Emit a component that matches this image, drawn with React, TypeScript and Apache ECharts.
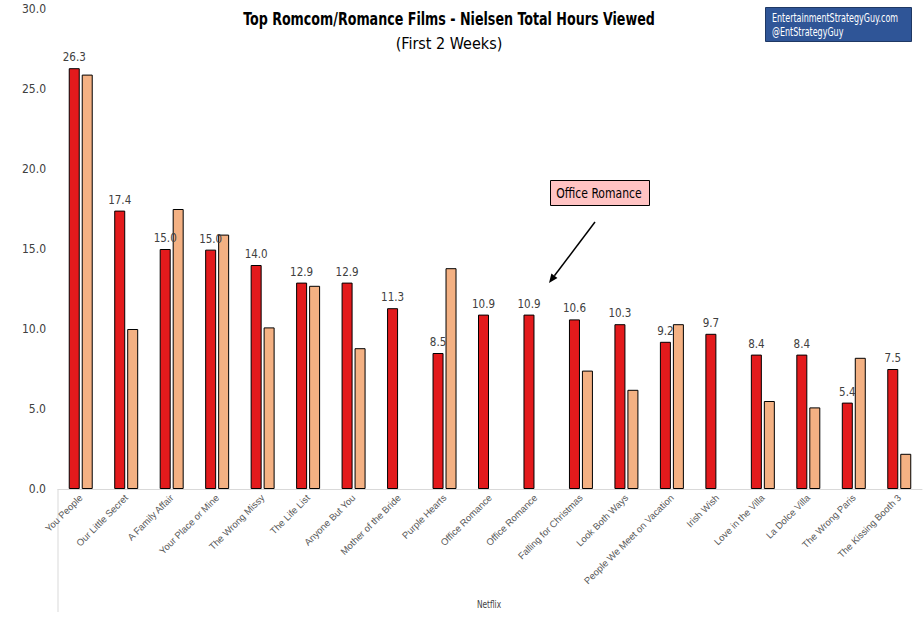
import React, { useEffect, useRef } from "react";
import * as echarts from "echarts";

const categories = [
  "You People",
  "Our Little Secret",
  "A Family Affair",
  "Your Place or Mine",
  "The Wrong Missy",
  "The Life List",
  "Anyone But You",
  "Mother of the Bride",
  "Purple Hearts",
  "Office Romance",
  "Office Romance",
  "Falling for Christmas",
  "Look Both Ways",
  "People We Meet on Vacation",
  "Irish Wish",
  "Love in the Villa",
  "La Dolce Villa",
  "The Wrong Paris",
  "The Kissing Booth 3",
];

const firstSeries = [26.3, 17.4, 15.0, 14.96, 14.0, 12.9, 12.9, 11.3, 8.5, 10.9, 10.9, 10.6, 10.3, 9.2, 9.7, 8.4, 8.4, 5.4, 7.5];
const secondSeries: (number | null)[] = [25.9, 10.0, 17.5, 15.9, 10.1, 12.7, 8.8, null, 13.8, null, null, 7.4, 6.2, 10.3, null, 5.5, 5.1, 8.2, 2.2];

const yTicks = { min: 0, max: 30, interval: 5 };

const titleText = "Top Romcom/Romance Films - Nielsen Total Hours Viewed";
const subtitleText = "(First 2 Weeks)";
const axisNameText = "Netflix";
const calloutText = "Office Romance";
const brandLines = ["EntertainmentStrategyGuy.com", "@EntStrategyGuy"];

const NARROW = '"Liberation Sans Narrow", "DejaVu Sans Condensed", "Roboto", sans-serif';

export default function App() {
  const ref = useRef<HTMLDivElement>(null);

  useEffect(() => {
    document.body.style.margin = "0";
    if (!ref.current) return;
    const chart = echarts.init(ref.current, undefined, { renderer: "svg" });

    const tip: [number, number] = [549, 283];
    const start: [number, number] = [595, 222];
    const dx = tip[0] - start[0];
    const dy = tip[1] - start[1];
    const len = Math.sqrt(dx * dx + dy * dy);
    const ux = dx / len;
    const uy = dy / len;
    const headL = 9;
    const headW = 3.8;
    const base: [number, number] = [tip[0] - ux * headL, tip[1] - uy * headL];

    chart.setOption({
      animation: false,
      grid: { left: 58, right: 1, top: 9, bottom: 146, containLabel: false },
      xAxis: {
        type: "category",
        data: categories,
        axisLine: { show: true, lineStyle: { color: "#d9d9d9", width: 1 } },
        axisTick: { show: false },
        axisLabel: {
          interval: 0,
          rotate: 45,
          fontSize: 9.5,
          color: "#595959",
          fontFamily: '"Liberation Sans", Arial, sans-serif',
          margin: 7,
        },
      },
      yAxis: {
        type: "value",
        min: yTicks.min,
        max: yTicks.max,
        interval: yTicks.interval,
        axisLine: { show: false },
        axisTick: { show: false },
        splitLine: { show: false },
        axisLabel: {
          formatter: (v: number) => v.toFixed(1),
          fontSize: 12,
          color: "#404040",
          fontFamily: NARROW,
          margin: 12,
        },
      },
      series: [
        {
          type: "bar",
          data: firstSeries,
          barWidth: 11,
          barGap: "18%",
          itemStyle: { color: "#E31A1C", borderColor: "#000", borderWidth: 1 },
          label: {
            show: true,
            position: "top",
            distance: 5,
            formatter: (p: any) => Number(p.value).toFixed(1),
            fontSize: 11.5,
            color: "#404040",
            fontFamily: NARROW,
          },
        },
        {
          type: "bar",
          data: secondSeries,
          barWidth: 11,
          itemStyle: { color: "#F4B183", borderColor: "#000", borderWidth: 1 },
        },
      ],
      graphic: [
        {
          type: "line",
          shape: { x1: 58, y1: 489, x2: 58, y2: 612 },
          style: { stroke: "#d9d9d9", lineWidth: 1 },
        },
        {
          type: "text",
          x: 489,
          y: 604,
          scaleX: 0.75,
          style: {
            text: axisNameText,
            font: `11px ${NARROW}`,
            fill: "#404040",
            textAlign: "center",
            textVerticalAlign: "middle",
          },
        },
        {
          type: "text",
          x: 449,
          y: 20,
          scaleX: 0.83,
          style: {
            text: titleText,
            font: `bold 17px ${NARROW}`,
            fill: "#000",
            textAlign: "center",
            textVerticalAlign: "middle",
          },
        },
        {
          type: "text",
          x: 449,
          y: 43,
          style: {
            text: subtitleText,
            font: `16px ${NARROW}`,
            fill: "#000",
            textAlign: "center",
            textVerticalAlign: "middle",
          },
        },
        {
          type: "rect",
          shape: { x: 765.5, y: 7.5, width: 146, height: 34 },
          style: { fill: "#2F5597", stroke: "#1F3864", lineWidth: 1 },
        },
        {
          type: "text",
          x: 772,
          y: 17,
          scaleX: 0.74,
          style: {
            text: brandLines[0],
            font: `12px ${NARROW}`,
            fill: "#fff",
            textAlign: "left",
            textVerticalAlign: "middle",
          },
        },
        {
          type: "text",
          x: 772,
          y: 31,
          scaleX: 0.74,
          style: {
            text: brandLines[1],
            font: `12px ${NARROW}`,
            fill: "#fff",
            textAlign: "left",
            textVerticalAlign: "middle",
          },
        },
        {
          type: "rect",
          shape: { x: 550.5, y: 180.5, width: 99, height: 25 },
          style: { fill: "#FFC3C3", stroke: "#000", lineWidth: 1 },
        },
        {
          type: "text",
          x: 599,
          y: 193,
          scaleX: 0.86,
          style: {
            text: calloutText,
            font: `14px ${NARROW}`,
            fill: "#000",
            textAlign: "center",
            textVerticalAlign: "middle",
          },
        },
        {
          type: "line",
          shape: { x1: start[0], y1: start[1], x2: base[0], y2: base[1] },
          style: { stroke: "#000", lineWidth: 1.5 },
        },
        {
          type: "polygon",
          shape: {
            points: [
              tip,
              [base[0] - uy * headW, base[1] + ux * headW],
              [base[0] + uy * headW, base[1] - ux * headW],
            ],
          },
          style: { fill: "#000" },
        },
      ],
    });

    return () => chart.dispose();
  }, []);

  return <div ref={ref} style={{ width: 923, height: 635 }} />;
}
